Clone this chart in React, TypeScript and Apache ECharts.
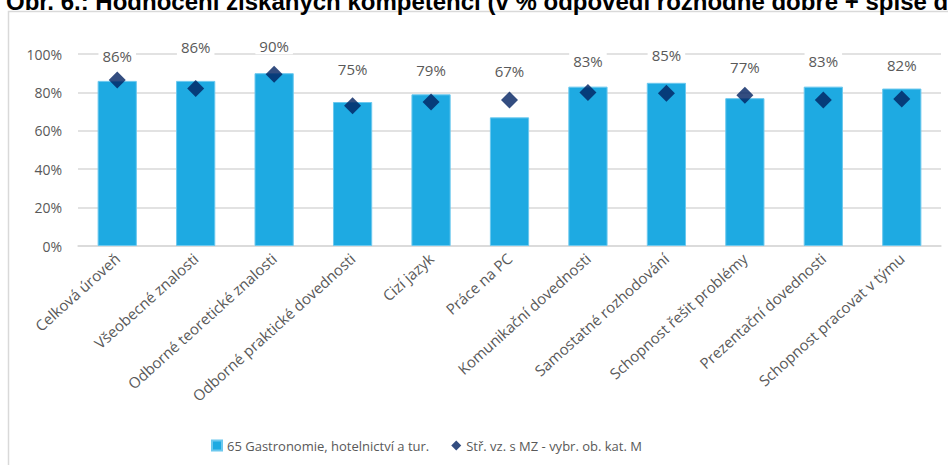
import React, { useEffect, useRef } from "react";
import * as echarts from "echarts";

const titleText = "Obr. 6.: Hodnocení získaných kompetencí (v % odpovědí rozhodně dobře + spíše dobře)";
const categories = [
  "Celková úroveň",
  "Všeobecné znalosti",
  "Odborné teoretické znalosti",
  "Odborné praktické dovednosti",
  "Cizí jazyk",
  "Práce na PC",
  "Komunikační dovednosti",
  "Samostatné rozhodování",
  "Schopnost řešit problémy",
  "Prezentační dovednosti",
  "Schopnost pracovat v týmu",
];
const barName = "65 Gastronomie, hotelnictví a tur.";
const barValues = [86, 86, 90, 75, 79, 67, 83, 85, 77, 83, 82];
const pointName = "Stř. vz. s MZ - vybr. ob. kat. M";
const pointValues = [86.5, 82, 89.5, 73, 75, 76, 80, 79.5, 78.5, 76, 76.5];
const yTicks = { min: 0, max: 100, interval: 20 };
// label lift (px) above bar top, as placed in the reference
const labelLift = [16, 25, 19, 25, 16, 38, 17, 19, 23, 17, 15];

export default function App() {
  const ref = useRef<HTMLDivElement>(null);
  useEffect(() => {
    if (!ref.current) return;
    const chart = echarts.init(ref.current, null, { renderer: "svg" });
    const font = "'Open Sans', sans-serif";
    chart.setOption({
      animation: false,
      textStyle: { fontFamily: font },
      graphic: [
        {
          type: "rect",
          shape: { x: 8.5, y: 11.5, width: 1000, height: 600 },
          style: { fill: "none", stroke: "#D9D9D9", lineWidth: 1.5 },
          silent: true,
        },
        {
          type: "text",
          x: 6,
          y: 13,
          style: {
            text: titleText,
            font: "bold 24px 'Liberation Sans', Arial, sans-serif",
            fill: "#000",
            verticalAlign: "bottom",
          },
          silent: true,
        },
      ],
      grid: { left: 78, right: 7, top: 54, bottom: 219, containLabel: false },
      legend: {
        bottom: 8,
        left: 206,
        itemGap: 22,
        itemWidth: 10,
        itemHeight: 10,
        textStyle: { color: "#595959", fontSize: 13, fontFamily: font },
        data: [
          { name: barName, icon: "rect" },
          { name: pointName, icon: "diamond" },
        ],
      },
      xAxis: {
        type: "category",
        data: categories,
        axisLine: { lineStyle: { color: "#D9D9D9", width: 1.5 } },
        axisTick: { show: false },
        axisLabel: {
          interval: 0,
          rotate: 42,
          color: "#595959",
          fontSize: 15,
          margin: 10,
          fontFamily: font,
        },
      },
      yAxis: {
        type: "value",
        min: yTicks.min,
        max: yTicks.max,
        interval: yTicks.interval,
        axisLine: { show: false },
        axisTick: { show: false },
        splitLine: { lineStyle: { color: "#D9D9D9", width: 1.5 } },
        axisLabel: {
          formatter: "{value}%",
          color: "#595959",
          fontSize: 14,
          margin: 16,
          fontFamily: font,
        },
      },
      series: [
        {
          name: barName,
          type: "bar",
          barWidth: "50%",
          itemStyle: { color: "#1EAAE2", borderColor: "#6CC8EE", borderWidth: 1 },
          data: barValues.map((v, i) => ({
            value: v,
            label: { offset: [0, -labelLift[i]] },
          })),
          label: {
            show: true,
            position: "top",
            distance: 0,
            formatter: "{c}%",
            color: "#595959",
            fontSize: 15,
            fontFamily: font,
            backgroundColor: "#fff",
            padding: [1, 4],
          },
          z: 2,
        },
        {
          name: pointName,
          type: "scatter",
          symbol: "diamond",
          symbolSize: [17, 17],
          itemStyle: { color: "#002060" },
          data: pointValues,
          z: 3,
        },
      ],
    });
    return () => chart.dispose();
  }, []);
  return (
    <div
      ref={ref}
      style={{ width: 948, height: 465, position: "absolute", left: 0, top: 0 }}
    />
  );
}
